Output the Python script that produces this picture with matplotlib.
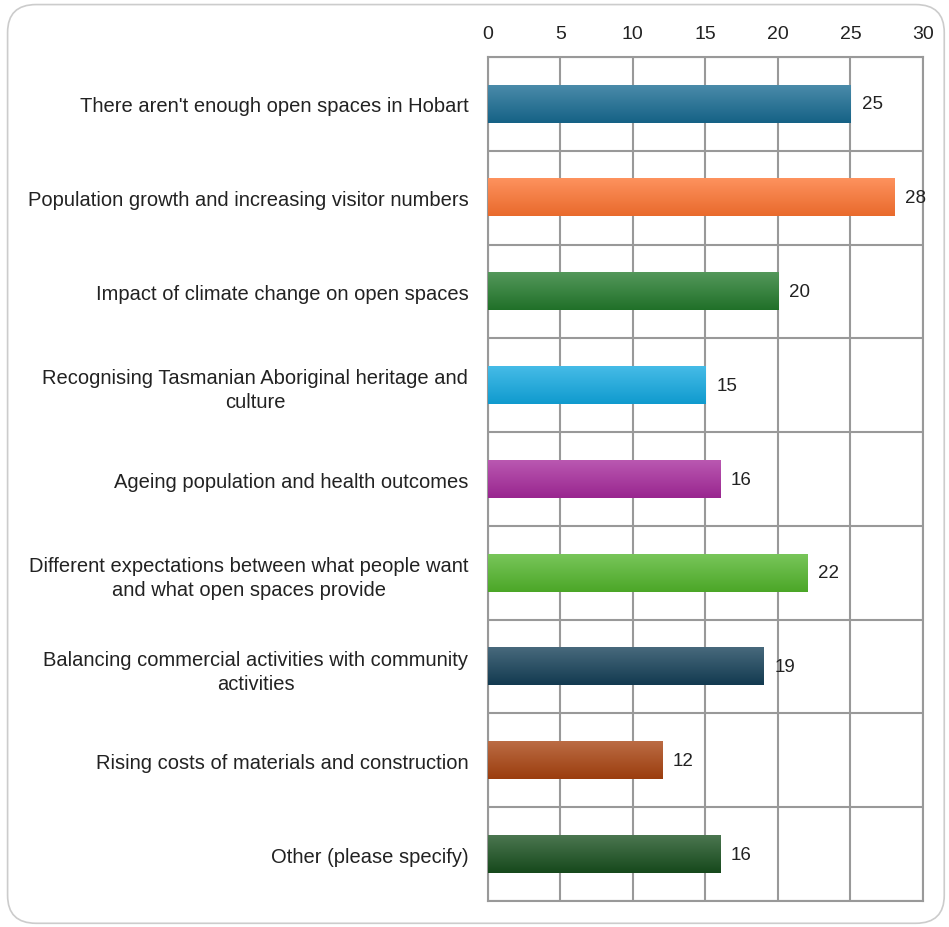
import numpy as np
import matplotlib.pyplot as plt
from matplotlib.colors import to_rgb
from matplotlib.patches import FancyBboxPatch

categories = [
    "There aren't enough open spaces in Hobart",
    "Population growth and increasing visitor numbers",
    "Impact of climate change on open spaces",
    "Recognising Tasmanian Aboriginal heritage and\nculture",
    "Ageing population and health outcomes",
    "Different expectations between what people want\nand what open spaces provide",
    "Balancing commercial activities with community\nactivities",
    "Rising costs of materials and construction",
    "Other (please specify)",
]
values = [25, 28, 20, 15, 16, 22, 19, 12, 16]
colors = ['#176a91', '#fd7330', '#237a2c', '#11a8e0', '#a6299b',
          '#52b52b', '#143f57', '#a8420f', '#184f1e']
x_ticks = [0, 5, 10, 15, 20, 25, 30]

plt.rcParams['font.family'] = ['Liberation Sans', 'DejaVu Sans']

fig = plt.figure(figsize=(9.49, 9.28), dpi=100)
ax = fig.add_axes([0.514, 0.028, 0.4586, 0.9095])

# rounded frame around the whole chart
frame = FancyBboxPatch((0.008, 0.004), 0.987, 0.99,
                       boxstyle='round,pad=0,rounding_size=0.03',
                       transform=fig.transFigure, fill=False,
                       edgecolor='#cccccc', linewidth=1.2, zorder=0)
fig.patches.append(frame)

y = np.arange(len(categories))
bars = ax.barh(y, values, height=0.4, color=colors, edgecolor='none', zorder=2)

# light-to-dark vertical gradient on every bar
for bar, c in zip(bars, colors):
    base = np.array(to_rgb(c))
    light = base + (1 - base) * 0.22
    dark = base * 0.92
    t = np.linspace(0, 1, 64)[:, None]
    grad = light * (1 - t) + dark * t
    grad = grad[:, None, :]
    x0, y0 = bar.get_x(), bar.get_y()
    w, h = bar.get_width(), bar.get_height()
    ax.imshow(grad, extent=[x0, x0 + w, y0 + h, y0], aspect='auto',
              zorder=3, interpolation='bilinear')
    bar.set_visible(False)

for yi, v in zip(y, values):
    ax.annotate(str(v), (v, yi), xytext=(8, 0), textcoords='offset points',
                va='center', ha='left', fontsize=13.5, color='#222222', zorder=4)

ax.set_xlim(0, 30)
ax.set_ylim(len(categories) - 0.5, -0.5)
ax.set_xticks(x_ticks)
ax.xaxis.tick_top()
ax.tick_params(axis='x', length=0, pad=11, labelsize=14, colors='#222222')
ax.set_yticks(y)
ax.set_yticklabels(categories)
ax.tick_params(axis='y', length=0, pad=14, labelsize=14.5, colors='#222222')
for lbl in ax.get_yticklabels():
    lbl.set_multialignment('center')
    lbl.set_linespacing(1.35)

ax.set_yticks(np.arange(-0.5, len(categories), 1), minor=True)
ax.tick_params(axis='y', which='minor', length=0)
ax.grid(axis='x', which='major', color='#999999', linewidth=1.5, zorder=1)
ax.grid(axis='y', which='minor', color='#999999', linewidth=1.5, zorder=1)
ax.set_axisbelow(True)
for s in ax.spines.values():
    s.set_color('#999999')
    s.set_linewidth(1.5)

fig.savefig('out.png', dpi=100)
